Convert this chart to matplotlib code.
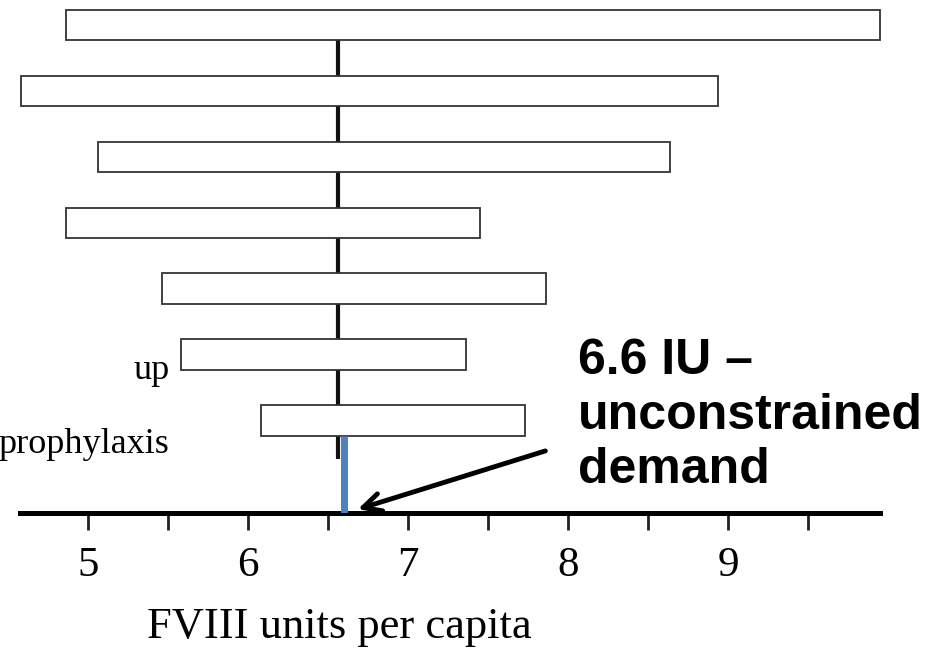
import numpy as np
from matplotlib import pyplot as plt

# bar ranges (FVIII units per capita), top to bottom
low = [4.86, 4.58, 5.06, 4.86, 5.46, 5.58, 6.08]
high = [9.95, 8.94, 8.64, 7.45, 7.86, 7.36, 7.73]
base_value = 6.56      # black centre line
demand = 6.6           # unconstrained demand
major_ticks = [5, 6, 7, 8, 9]
minor_ticks = [5.5, 6.5, 7.5, 8.5, 9.5]
side_labels = {5: "up", 6: "prophylaxis"}

fig = plt.figure(figsize=(9.3, 6.63), dpi=100)
ax = fig.add_axes([0, 0.2262, 1, 0.7738])

n = len(low)
ypos = np.arange(n)
bar_h = 0.46

# centre line behind the bars
ax.vlines(base_value, 0, n - 1 + 0.59, color='#111111', lw=3, zorder=1)

ax.barh(ypos, np.array(high) - np.array(low), left=low, height=bar_h,
        color='white', edgecolor='#333333', linewidth=1.3, zorder=2)

ax.set_xlim(4.45, 10.2625)
ax.set_ylim(7.405, -0.379)

# blue segment for unconstrained demand
ax.vlines(demand, n - 1 + bar_h / 2, 7.405, color='#4f81bd', lw=5, zorder=3)

# axes styling
for s in ['left', 'right', 'top']:
    ax.spines[s].set_visible(False)
ax.spines['bottom'].set_linewidth(3.6)
ax.spines['bottom'].set_bounds(4.575, 9.95)
ax.set_yticks([])
ax.set_xticks(major_ticks)
ax.set_xticks(minor_ticks, minor=True)
ax.tick_params(axis='x', which='both', direction='out', length=12, width=2, color='#222222')
ax.tick_params(axis='x', which='major', pad=12, labelsize=31)
for lab in ax.get_xticklabels():
    lab.set_family('Liberation Serif')

fig.text(339 / 930, 1 - 627 / 663, "FVIII units per capita", ha='center', va='center',
         family='Liberation Serif', fontsize=32)

# cropped category labels on the left
for i, txt in side_labels.items():
    ax.text(5.51, i + 0.25 + (i - 5) * 0.12, txt, ha='right', va='center',
            family='Liberation Serif', fontsize=26)

# annotation
ax.text(8.06, 6.95, "6.6 IU \u2013\nunconstrained\ndemand", ha='left', va='baseline',
        family='Liberation Sans', fontweight='bold', fontsize=36, linespacing=1.23)
ax.annotate('', xy=(6.67, 7.36), xytext=(7.875, 6.45),
            arrowprops=dict(arrowstyle='->', lw=3.5, color='black',
                            mutation_scale=32))

fig.savefig('out.png', dpi=100)
